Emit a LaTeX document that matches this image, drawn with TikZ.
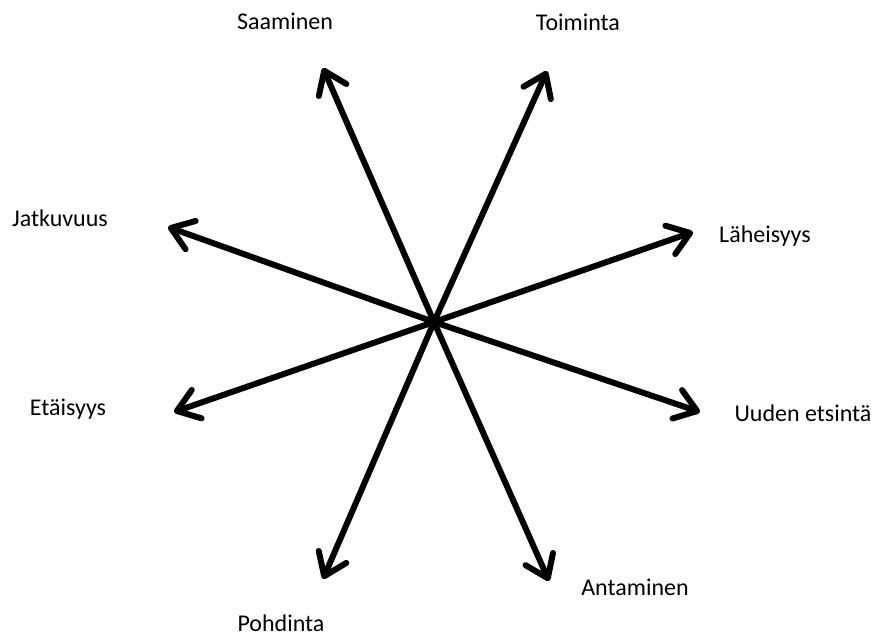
\documentclass[tikz,border=0pt]{standalone}
\usepackage{fontspec}
\setmainfont{Carlito}
\usetikzlibrary{arrows.meta}

\begin{document}
\begin{tikzpicture}[
    x=1pt, y=-1pt,
    lbl/.style={font=\fontsize{24}{28}\selectfont, inner sep=0pt},
    arr/.style={line width=6pt, -{Straight Barb[length=21pt, width=30pt, round]}}
]
\useasboundingbox (0,0) rectangle (873,637);

% centre and arrow ends
\coordinate (mid) at (434,322);
\coordinate (saa) at (323,68);
\coordinate (toi) at (547,71);
\coordinate (lah) at (693,232);
\coordinate (uud) at (700,412);
\coordinate (ant) at (549,581);
\coordinate (poh) at (323,579);
\coordinate (eta) at (174,412);
\coordinate (jat) at (168,227);

% labels
\node[lbl] (tsaa) at (285,21) {Saaminen};
\node[lbl] (ttoi) at (578,22) {Toiminta};
\node[lbl] (tlah) at (765,236) {Läheisyys};
\node[lbl] (tuud) at (803,413) {Uuden etsintä};
\node[lbl] (tant) at (635,587) {Antaminen};
\node[lbl] (tpoh) at (281,623) {Pohdinta};
\node[lbl] (teta) at (68,409) {Etäisyys};
\node[lbl] (tjat) at (60,218) {Jatkuvuus};

\foreach \e in {saa,toi,lah,uud,ant,poh,eta,jat}
  \draw[arr] (mid) -- (\e);
\end{tikzpicture}
\end{document}
